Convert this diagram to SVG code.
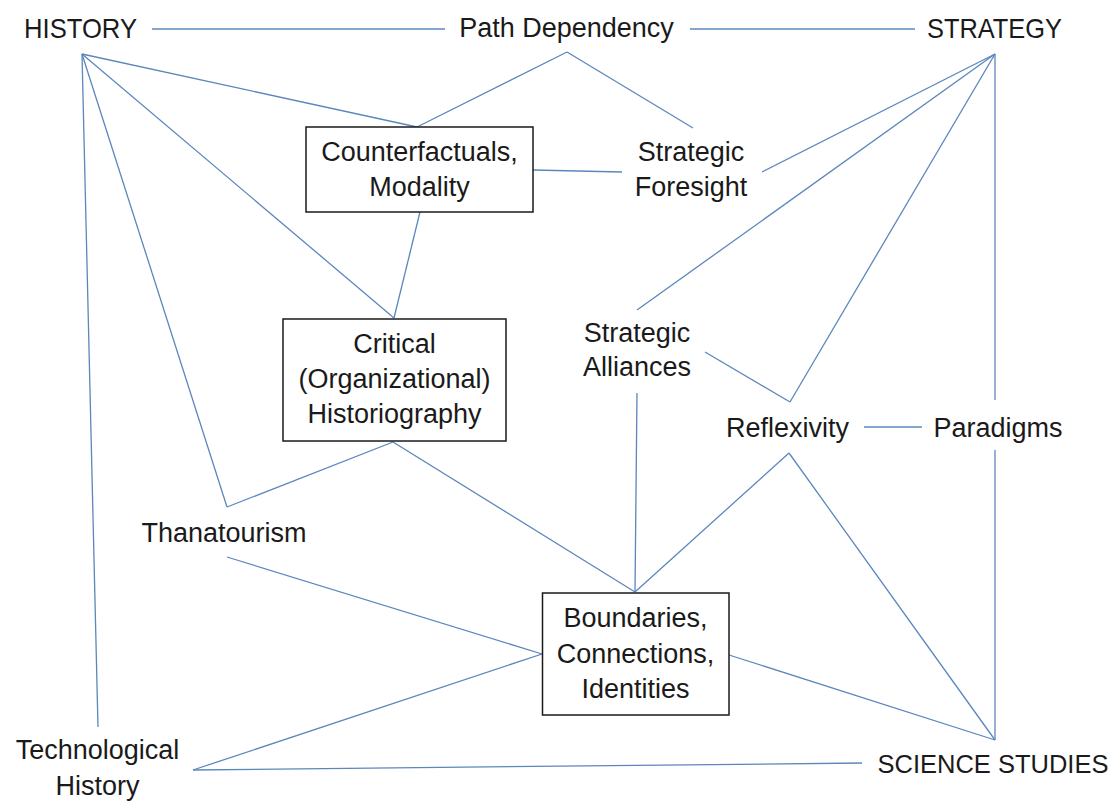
<svg xmlns="http://www.w3.org/2000/svg" width="1118" height="801" viewBox="0 0 1118 801">
<style>
.bg{fill:#ffffff}
.lbl{font-family:"Liberation Sans",Arial,sans-serif;font-size:27px;fill:#1a1a1a;text-anchor:middle}
.cap{font-family:"Liberation Sans",Arial,sans-serif;font-size:28px;fill:#1a1a1a;text-anchor:middle}
.capsm{font-family:"Liberation Sans",Arial,sans-serif;font-size:25.5px;fill:#1a1a1a;text-anchor:middle}
.box{fill:#ffffff;stroke:#1a1a1a;stroke-width:1.5}
#connectors line{stroke:#5b87bd;stroke-width:1.3;fill:none}
</style>
<rect class="bg" x="0" y="0" width="1118" height="801"/>
<g id="connectors">
<line x1="152" y1="29" x2="445" y2="29"/>
<line x1="690" y1="29" x2="915" y2="29"/>
<line x1="82" y1="54" x2="417" y2="127"/>
<line x1="567" y1="52" x2="417" y2="127"/>
<line x1="567" y1="52" x2="693" y2="128"/>
<line x1="82" y1="54" x2="394" y2="318"/>
<line x1="82" y1="54" x2="227" y2="507"/>
<line x1="82" y1="54" x2="98" y2="727"/>
<line x1="227" y1="507" x2="393" y2="442"/>
<line x1="393" y1="442" x2="635" y2="592"/>
<line x1="420" y1="212" x2="394" y2="318"/>
<line x1="533" y1="170" x2="622" y2="172"/>
<line x1="995" y1="54" x2="762" y2="172"/>
<line x1="995" y1="54" x2="637" y2="310"/>
<line x1="995" y1="54" x2="790" y2="402"/>
<line x1="705" y1="352" x2="790" y2="402"/>
<line x1="995" y1="54" x2="995" y2="400"/>
<line x1="995" y1="450" x2="995" y2="740"/>
<line x1="864" y1="427" x2="922" y2="427"/>
<line x1="637" y1="393" x2="635" y2="592"/>
<line x1="789" y1="453" x2="635" y2="592"/>
<line x1="789" y1="453" x2="995" y2="740"/>
<line x1="729" y1="655" x2="995" y2="740"/>
<line x1="227" y1="557" x2="542" y2="654"/>
<line x1="193" y1="770" x2="542" y2="654"/>
<line x1="193" y1="770" x2="862" y2="763"/>
</g>
<g id="history"><text class="cap" x="80.5" y="38" textLength="113" lengthAdjust="spacingAndGlyphs">HISTORY</text></g>
<g id="path-dependency"><text class="lbl" x="566.5" y="37">Path Dependency</text></g>
<g id="strategy"><text class="cap" x="994.5" y="38" textLength="135" lengthAdjust="spacingAndGlyphs">STRATEGY</text></g>
<g id="counterfactuals">
<rect class="box" x="306" y="127" width="227" height="85"/>
<text class="lbl" x="419.5" y="161">Counterfactuals,</text>
<text class="lbl" x="419.5" y="196">Modality</text>
</g>
<g id="strategic-foresight">
<text class="lbl" x="691" y="161">Strategic</text>
<text class="lbl" x="691" y="196">Foresight</text>
</g>
<g id="critical-historiography">
<rect class="box" x="283" y="319" width="223" height="122"/>
<text class="lbl" x="394.5" y="353">Critical</text>
<text class="lbl" x="394.5" y="388">(Organizational)</text>
<text class="lbl" x="394.5" y="423">Historiography</text>
</g>
<g id="strategic-alliances">
<text class="lbl" x="637" y="342">Strategic</text>
<text class="lbl" x="637" y="376">Alliances</text>
</g>
<g id="reflexivity"><text class="lbl" x="787.5" y="437">Reflexivity</text></g>
<g id="paradigms"><text class="lbl" x="998" y="437">Paradigms</text></g>
<g id="thanatourism"><text class="lbl" x="224" y="542">Thanatourism</text></g>
<g id="boundaries">
<rect class="box" x="542.5" y="593" width="186.5" height="122"/>
<text class="lbl" x="635.5" y="627">Boundaries,</text>
<text class="lbl" x="635.5" y="663">Connections,</text>
<text class="lbl" x="635.5" y="698">Identities</text>
</g>
<g id="technological-history">
<text class="lbl" x="97.5" y="759">Technological</text>
<text class="lbl" x="97.5" y="795">History</text>
</g>
<g id="science-studies"><text class="capsm" x="993" y="773">SCIENCE STUDIES</text></g>
</svg>
